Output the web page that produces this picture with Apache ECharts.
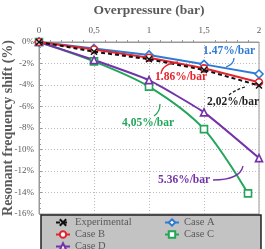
<!DOCTYPE html>
<html>
<head>
<meta charset="utf-8">
<script src="https://cdn.jsdelivr.net/npm/echarts@6/dist/echarts.min.js"></script>
<style>
  html, body { margin: 0; padding: 0; background: #fff; }
  #chart { width: 265px; height: 249px; }
</style>
</head>
<body>
<div id="chart"></div>
<script>
// overpressure (bar) and frequency shift (%)
const pressure = [0, 0.5, 1, 1.5, 2]
const pressureC = [0, 0.5, 1, 1.5, 1.9]
const experimental = [0, -0.9, -1.6, -2.6, -4.05]
const caseA = [0, -0.6, -1.2, -2.08, -2.98]
const caseB = [0, -0.7, -1.46, -2.45, -3.75]
const caseC = [0, -1.8, -4.15, -8.1, -14.08]
const caseD = [0, -1.67, -3.55, -6.55, -10.8]
const xTicks = ['0', '0,5', '1', '1,5', '2']
const legendNames = ['Experimental', 'Case A', 'Case B', 'Case C', 'Case D']

const serif = '"Liberation Serif", "DejaVu Serif", serif'
const grey = '#5a5a5a'

const pairs = (xs, ys) => xs.map((x, i) => [x, ys[i]])

const crossPath = 'path://M0,0L10,10M10,0L0,10'

const chart = echarts.init(document.getElementById('chart'))

const mkSeries = (name, xs, ys, color, symbol, extra) => Object.assign({
  name: name,
  type: 'line',
  data: pairs(xs, ys),
  symbol: symbol,
  symbolSize: 7,
  lineStyle: { color: color, width: 2 },
  itemStyle: { color: '#fff', borderColor: color, borderWidth: 1.6 },
  z: 3
}, extra || {})

const legendText = { fontFamily: serif, fontSize: 10.5, color: grey, lineHeight: 10 }

const option = {
  animation: false,
  grid: {
    left: 39, top: 42, right: 6, bottom: 35,
    outerBoundsMode: 'none',
    containLabel: false,
    show: true, borderColor: '#999', borderWidth: 1
  },
  xAxis: {
    type: 'value',
    position: 'top',
    min: 0, max: 2, interval: 0.5,
    name: 'Overpressure (bar)',
    nameLocation: 'middle',
    nameGap: 24,
    nameTextStyle: { fontFamily: serif, fontWeight: 'bold', fontSize: 13.5, color: grey },
    axisLine: { lineStyle: { color: '#999' } },
    axisTick: { show: false },
    minorTick: { show: true, splitNumber: 5, length: 2, lineStyle: { color: '#999' } },
    axisLabel: {
      fontFamily: serif, fontSize: 9, color: grey, margin: 7,
      formatter: v => xTicks[Math.round(v * 2)]
    },
    splitLine: { show: true, lineStyle: { color: '#bbb', type: [1, 2] } }
  },
  yAxis: {
    type: 'value',
    min: -16, max: 0, interval: 2,
    name: 'Resonant frequency shift (%)',
    nameLocation: 'middle',
    nameGap: 24,
    nameMoveOverlap: false,
    nameTextStyle: { fontFamily: serif, fontWeight: 'bold', fontSize: 14, color: grey },
    axisLine: { lineStyle: { color: '#999' } },
    axisTick: { inside: true, length: 3, lineStyle: { color: '#999' } },
    minorTick: { show: true, splitNumber: 4, length: 2, lineStyle: { color: '#999' } },
    axisLabel: { fontFamily: serif, fontSize: 9, color: grey, margin: 5, formatter: '{value}%' },
    splitLine: { show: true, lineStyle: { color: '#bbb', type: [1, 2] } }
  },
  legend: {
    left: 41, top: 215, width: 240,
    backgroundColor: '#c3c3c3',
    borderColor: '#222', borderWidth: 1.5, borderRadius: 0,
    padding: [2, 17, 2, 14],
    itemWidth: 14, itemHeight: 8, itemGap: 1,
    textStyle: Object.assign({
      rich: {
        a: Object.assign({ width: 88 }, legendText),
        b: Object.assign({ width: 60 }, legendText)
      }
    }, legendText),
    formatter: n => (legendNames.indexOf(n) % 2 === 0 ? '{a|' : '{b|') + n + '}',
    data: legendNames
  },
  series: [
    mkSeries('Case C', pressureC, caseC, '#23a55a', 'rect', { smooth: 0.3 }),
    mkSeries('Case D', pressure, caseD, '#7432a8', 'triangle', { smooth: 0.15 }),
    mkSeries('Case A', pressure, caseA, '#2f7bd4', 'diamond', { symbolSize: 8 }),
    mkSeries('Case B', pressure, caseB, '#e4242c', 'circle'),
    mkSeries('Experimental', pressure, experimental, '#111', crossPath, {
      symbolSize: 6,
      lineStyle: { color: '#111', width: 2, type: [4, 3] },
      itemStyle: { color: '#111', borderColor: '#111', borderWidth: 1.5 },
      z: 4
    })
  ],
  graphic: [
    { type: 'text', left: 203, top: 45, z: 10,
      style: { text: '1.47%/bar', fill: '#2f7bd4', font: 'bold 11.5px ' + serif } },
    { type: 'text', left: 155, top: 71, z: 10,
      style: { text: '1.86%/bar', fill: '#e4242c', font: 'bold 11.5px ' + serif } },
    { type: 'text', left: 207, top: 96, z: 10,
      style: { text: '2,02%/bar', fill: '#222', font: 'bold 11.5px ' + serif } },
    { type: 'text', left: 122, top: 117, z: 10,
      style: { text: '4,05%/bar', fill: '#23a55a', font: 'bold 11.5px ' + serif } },
    { type: 'text', left: 158, top: 174, z: 10,
      style: { text: '5.36%/bar', fill: '#7432a8', font: 'bold 11.5px ' + serif } },
    { type: 'bezierCurve', z: 10,
      shape: { x1: 234, y1: 58, x2: 226, y2: 67, cpx1: 234, cpy1: 64 },
      style: { stroke: '#2f7bd4', lineWidth: 1.3, fill: null } },
    { type: 'bezierCurve', z: 10,
      shape: { x1: 161, y1: 74, x2: 178, y2: 62, cpx1: 162, cpy1: 64 },
      style: { stroke: '#e4242c', lineWidth: 1.3, fill: null } },
    { type: 'bezierCurve', z: 10,
      shape: { x1: 229, y1: 95, x2: 245, y2: 87, cpx1: 235, cpy1: 90 },
      style: { stroke: '#222', lineWidth: 1.3, lineDash: [3, 2], fill: null } },
    { type: 'bezierCurve', z: 10,
      shape: { x1: 154, y1: 116, x2: 160, y2: 104, cpx1: 160, cpy1: 112 },
      style: { stroke: '#23a55a', lineWidth: 1.3, fill: null } },
    { type: 'bezierCurve', z: 10,
      shape: { x1: 213, y1: 180, x2: 243, y2: 166, cpx1: 240, cpy1: 180 },
      style: { stroke: '#7432a8', lineWidth: 1.3, fill: null } }
  ]
}

chart.setOption(option)
</script>
</body>
</html>
